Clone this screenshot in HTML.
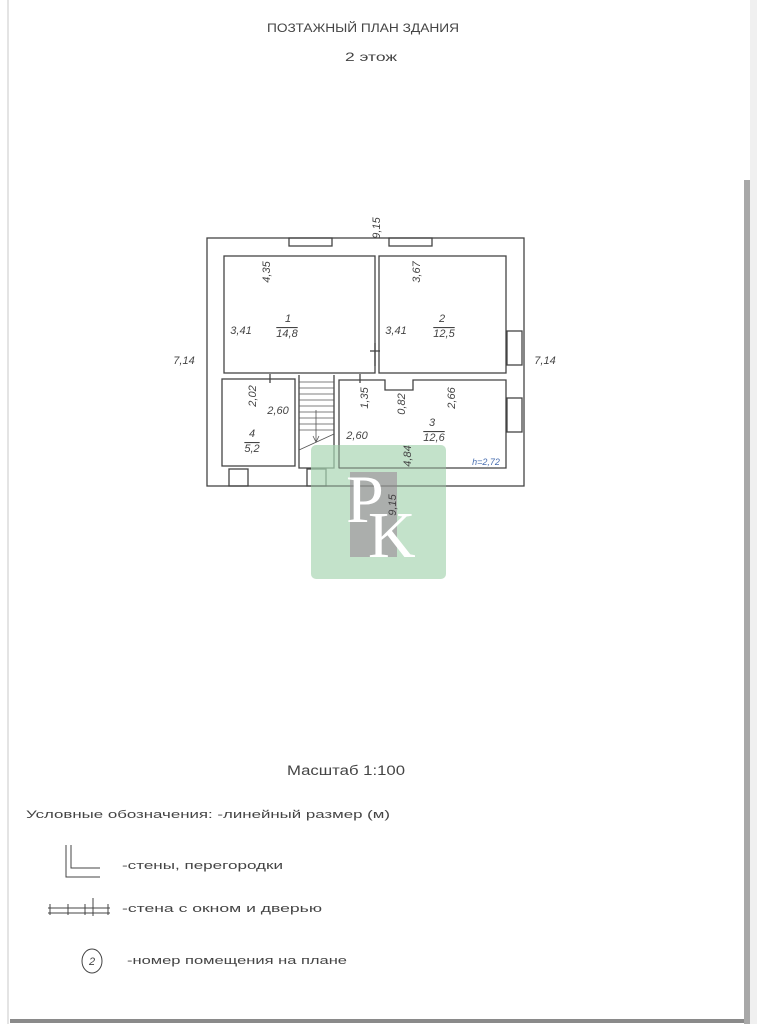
<!DOCTYPE html>
<html><head><meta charset="utf-8"><style>
html,body{margin:0;padding:0;background:#fff;width:757px;height:1024px;overflow:hidden}
svg text{font-family:"Liberation Sans",sans-serif;fill:#444}
</style></head><body>
<svg width="757" height="1024" viewBox="0 0 757 1024" xmlns="http://www.w3.org/2000/svg">
<rect width="757" height="1024" fill="#fff"/>
<line x1="8" y1="0" x2="8" y2="1024" stroke="#e4e4e4" stroke-width="2"/>
<rect x="744" y="180" width="6" height="844" fill="#a8a8a8"/>
<rect x="750" y="0" width="7" height="1024" fill="#f0f0f0"/>
<rect x="10" y="1019" width="734" height="4" fill="#8a8a8a"/>

<text x="267" y="32" font-size="11.5" textLength="192" lengthAdjust="spacingAndGlyphs">ПОЗТАЖНЫЙ ПЛАН ЗДАНИЯ</text>
<text x="345" y="61" font-size="11.5" textLength="52" lengthAdjust="spacingAndGlyphs">2 этож</text>

<g fill="none" stroke="#444" stroke-width="1.3">
<rect x="207" y="238" width="317" height="248"/>
<rect x="224" y="256" width="151" height="117"/>
<rect x="379" y="256" width="127" height="117"/>
<rect x="222" y="379" width="73" height="87"/>
<path d="M339 380 H385 V390 H413 V380 H506 V468 H339 Z"/>
<path d="M299 375 V468 H334 V375"/>
<rect x="289" y="238" width="43" height="8"/>
<rect x="389" y="238" width="43" height="8"/>
<rect x="507" y="331" width="15" height="34"/>
<rect x="507" y="398" width="15" height="34"/>
<rect x="229" y="469" width="19" height="17"/>
<rect x="307" y="469" width="19" height="17"/>
<line x1="375" y1="343" x2="375" y2="366"/>
<line x1="370" y1="351" x2="380" y2="351"/>
<line x1="270" y1="374" x2="270" y2="383"/>
<line x1="360" y1="374" x2="360" y2="383"/>
</g>
<g stroke="#555" stroke-width="0.8">
<line x1="299" y1="382" x2="334" y2="382"/><line x1="299" y1="388" x2="334" y2="388"/>
<line x1="299" y1="394" x2="334" y2="394"/><line x1="299" y1="400" x2="334" y2="400"/>
<line x1="299" y1="406" x2="334" y2="406"/><line x1="299" y1="412" x2="334" y2="412"/>
<line x1="299" y1="418" x2="334" y2="418"/><line x1="299" y1="424" x2="334" y2="424"/>
<line x1="299" y1="430" x2="334" y2="430"/>
<line x1="299" y1="450" x2="334" y2="434"/>
<line x1="316" y1="410" x2="316" y2="442"/>
<path d="M313 436 L316 442 L319 436" fill="none"/>
</g>

<g font-size="11" font-style="italic">
<text x="380" y="228" transform="rotate(-90 380 228)" text-anchor="middle">9,15</text>
<text x="270" y="272" transform="rotate(-90 270 272)" text-anchor="middle">4,35</text>
<text x="420" y="272" transform="rotate(-90 420 272)" text-anchor="middle">3,67</text>
<text x="288" y="322" text-anchor="middle">1</text>
<text x="287" y="337" text-anchor="middle" text-decoration="overline">14,8</text>
<text x="442" y="322" text-anchor="middle">2</text>
<text x="444" y="337" text-anchor="middle" text-decoration="overline">12,5</text>
<text x="241" y="334" text-anchor="middle">3,41</text>
<text x="396" y="334" text-anchor="middle">3,41</text>
<text x="184" y="364" text-anchor="middle">7,14</text>
<text x="545" y="364" text-anchor="middle">7,14</text>
<text x="256" y="396" transform="rotate(-90 256 396)" text-anchor="middle">2,02</text>
<text x="278" y="414" text-anchor="middle">2,60</text>
<text x="368" y="398" transform="rotate(-90 368 398)" text-anchor="middle">1,35</text>
<text x="405" y="404" transform="rotate(-90 405 404)" text-anchor="middle">0,82</text>
<text x="455" y="398" transform="rotate(-90 455 398)" text-anchor="middle">2,66</text>
<text x="357" y="439" text-anchor="middle">2,60</text>
<text x="432" y="426" text-anchor="middle">3</text>
<text x="434" y="441" text-anchor="middle" text-decoration="overline">12,6</text>
<text x="252" y="437" text-anchor="middle">4</text>
<text x="252" y="452" text-anchor="middle" text-decoration="overline">5,2</text>
<text x="486" y="465" font-size="9" text-anchor="middle" style="fill:#4a6fb0">h=2,72</text>
</g>

<rect x="311" y="445" width="135" height="134" rx="5" fill="#a9d6b3" fill-opacity="0.7"/>
<rect x="350" y="472" width="47" height="85" fill="#a8a8a8" fill-opacity="0.9"/>
<g stroke="#555" stroke-width="1" fill="none" opacity="0.6">
<line x1="311" y1="486" x2="446" y2="486"/><line x1="339" y1="468" x2="446" y2="468"/>
<line x1="339" y1="445" x2="339" y2="468"/>
</g>
<text x="411" y="456" transform="rotate(-90 411 456)" font-size="11" font-style="italic" text-anchor="middle">4,84</text>
<text x="396" y="505" transform="rotate(-90 396 505)" font-size="11" font-style="italic" text-anchor="middle">9,15</text>
<text x="346" y="522" font-size="68" style="fill:#fff;font-family:'Liberation Serif',serif">P</text>
<text x="368" y="557" font-size="66" style="fill:#fff;font-family:'Liberation Serif',serif">K</text>

<text x="287" y="775" font-size="13.5" textLength="118" lengthAdjust="spacingAndGlyphs">Масштаб 1:100</text>
<text x="26" y="818" font-size="11" textLength="364" lengthAdjust="spacingAndGlyphs">Условные обозначения: -линейный размер (м)</text>
<g stroke="#444" stroke-width="1" fill="none">
<path d="M66 845 V877 H100"/><path d="M71 845 V868 H100"/>
<line x1="48" y1="908" x2="110" y2="908"/><line x1="48" y1="913" x2="110" y2="913"/>
<line x1="50" y1="904" x2="50" y2="915"/><line x1="68" y1="904" x2="68" y2="915"/>
<line x1="85" y1="904" x2="85" y2="915"/><line x1="93" y1="898" x2="93" y2="916"/>
<line x1="108" y1="904" x2="108" y2="915"/>
<ellipse cx="92" cy="961" rx="10" ry="12"/>
</g>
<text x="89" y="965" font-size="11" font-style="italic">2</text>
<text x="122" y="869" font-size="11" textLength="161" lengthAdjust="spacingAndGlyphs">-стены, перегородки</text>
<text x="122" y="912" font-size="11" textLength="200" lengthAdjust="spacingAndGlyphs">-стена с окном и дверью</text>
<text x="127" y="964" font-size="11" textLength="220" lengthAdjust="spacingAndGlyphs">-номер помещения на плане</text>
</svg>
</body></html>
